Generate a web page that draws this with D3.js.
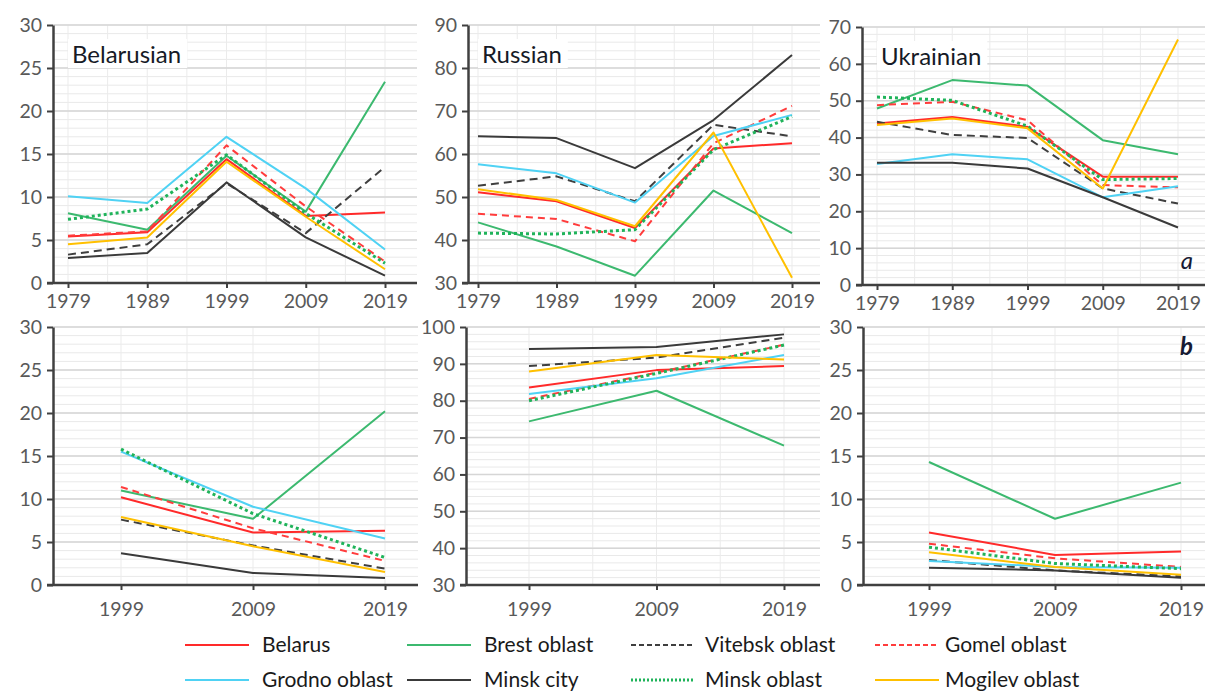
<!DOCTYPE html>
<html>
<head>
<meta charset="utf-8">
<script src="https://cdn.jsdelivr.net/npm/d3@7"></script>
<style>
  body { margin: 0; background: #fff; }
  svg { display: block; }
  text { font-family: Lato, "Open Sans", sans-serif; }
</style>
</head>
<body>
<div id="chart"></div>
<script>
// categories
const yearsA = ['1979', '1989', '1999', '2009', '2019'];
const yearsB = ['1999', '2009', '2019'];

// series, in drawing order
const seriesNames = ['Belarus', 'Brest oblast', 'Vitebsk oblast', 'Gomel oblast',
  'Grodno oblast', 'Minsk city', 'Minsk oblast', 'Mogilev oblast'];
const seriesColors = ['#ff2a2a', '#3cb96f', '#3f3f3f', '#ff3c3c',
  '#4fd2f4', '#3a3a3a', '#1fb35a', '#ffc000'];
const seriesDash = [null, null, '8,5', '7,5', null, null, '3,3', null];
const legendDash = [null, null, '5,3', '5,3', null, null, '2,2', null];

// values, one row per series (same order as seriesNames)
const belarusianA = [
  [5.4, 5.9, 14.4, 7.8, 8.2],
  [8.1, 6.2, 14.8, 8.3, 23.4],
  [3.3, 4.5, 11.6, 5.8, 13.5],
  [5.5, 6.0, 16.0, 8.9, 2.5],
  [10.1, 9.3, 17.0, 11.0, 3.9],
  [2.9, 3.5, 11.7, 5.3, 0.85],
  [7.4, 8.6, 14.9, 8.1, 2.3],
  [4.5, 5.3, 14.1, 7.7, 1.6]
];
const russianA = [
  [51.1, 49.0, 42.8, 61.3, 62.5],
  [44.1, 38.5, 31.7, 51.5, 41.6],
  [52.6, 54.8, 49.0, 66.8, 64.1],
  [46.1, 44.9, 39.7, 62.5, 71.2],
  [57.6, 55.5, 48.7, 64.2, 69.1],
  [64.1, 63.7, 56.7, 67.9, 83.0],
  [41.6, 41.4, 42.4, 61.0, 68.7],
  [51.8, 49.3, 43.2, 65.0, 31.2]
];
const ukrainianA = [
  [43.8, 45.6, 42.9, 29.4, 29.4],
  [47.9, 55.6, 54.1, 39.3, 35.5],
  [44.3, 40.7, 39.9, 26.2, 22.1],
  [48.8, 49.7, 44.7, 27.1, 26.5],
  [32.8, 35.5, 34.1, 23.8, 26.8],
  [33.2, 33.2, 31.6, 23.8, 15.6],
  [51.0, 50.1, 43.1, 28.6, 28.9],
  [43.4, 45.2, 42.5, 26.2, 66.6]
];
const belarusianB = [
  [10.2, 6.1, 6.3],
  [11.0, 7.7, 20.2],
  [7.6, 4.6, 1.9],
  [11.4, 6.6, 2.8],
  [15.5, 9.1, 5.4],
  [3.7, 1.4, 0.8],
  [15.8, 8.3, 3.2],
  [7.9, 4.5, 1.5]
];
const russianB = [
  [83.6, 88.3, 89.4],
  [74.4, 82.7, 67.8],
  [89.4, 91.7, 97.1],
  [80.5, 87.6, 95.2],
  [81.8, 86.1, 92.4],
  [94.0, 94.6, 98.0],
  [80.0, 87.4, 95.1],
  [87.9, 92.4, 91.2]
];
const ukrainianB = [
  [6.1, 3.5, 3.9],
  [14.3, 7.7, 11.9],
  [2.9, 1.7, 1.0],
  [4.8, 3.1, 2.1],
  [2.8, 2.1, 2.0],
  [2.0, 1.7, 0.85],
  [4.4, 2.5, 1.9],
  [3.8, 2.1, 1.2]
];

// panel layout (pixel boxes of the six Excel charts glued together)
const panels = [
  { values: belarusianA, cats: yearsA, y: [0, 30], step: 5, axisX: 53, first: 68, last: 385, right: 417, top: 25, bottom: 283, title: 'Belarusian', pad: 6 },
  { values: russianA, cats: yearsA, y: [30, 90], step: 10, axisX: 468, first: 478, last: 792, right: 820, top: 25, bottom: 283, title: 'Russian', pad: 6 },
  { values: ukrainianA, cats: yearsA, y: [0, 70], step: 10, axisX: 862, first: 877, last: 1178, right: 1205, top: 27, bottom: 285, title: 'Ukrainian', pad: 6, mark: 'a' },
  { values: belarusianB, cats: yearsB, y: [0, 30], step: 5, axisX: 53, first: 121, last: 385, right: 418, top: 327, bottom: 585, pad: 12 },
  { values: russianB, cats: yearsB, y: [30, 100], step: 10, axisX: 466, first: 529, last: 784, right: 820, top: 327, bottom: 585, pad: 12 },
  { values: ukrainianB, cats: yearsB, y: [0, 30], step: 5, axisX: 863, first: 929, last: 1181, right: 1205, top: 327, bottom: 585, pad: 12, mark: 'b' }
];

const W = 1205, H = 693;
const svg = d3.select('#chart').append('svg')
  .attr('width', W).attr('height', H);

panels.forEach(p => {
  const g = svg.append('g');
  const x = d3.scalePoint().domain(p.cats).range([p.first, p.last]);
  const y = d3.scaleLinear().domain(p.y).range([p.bottom, p.top]);

  // minor horizontal gridlines (5 per major step)
  const minor = d3.range(p.y[0], p.y[1] + 1e-6, p.step / 5);
  g.selectAll('.minor').data(minor).enter().append('line')
    .attr('x1', p.axisX).attr('x2', p.right)
    .attr('y1', d => y(d)).attr('y2', d => y(d))
    .attr('stroke', '#e9e9e9').attr('stroke-width', 1);

  // vertical gridlines at categories and halfway between them
  const half = (x(p.cats[1]) - x(p.cats[0])) / 2;
  const vx = [];
  p.cats.forEach((c, i) => {
    vx.push(x(c));
    if (i < p.cats.length - 1) vx.push(x(c) + half);
  });
  g.selectAll('.vgrid').data(vx).enter().append('line')
    .attr('x1', d => d).attr('x2', d => d)
    .attr('y1', p.top).attr('y2', p.bottom)
    .attr('stroke', '#ebebeb').attr('stroke-width', 1);

  const major = d3.range(p.y[0], p.y[1] + 1e-6, p.step);
  g.selectAll('.major').data(major).enter().append('line')
    .attr('x1', p.axisX).attr('x2', p.right)
    .attr('y1', d => y(d)).attr('y2', d => y(d))
    .attr('stroke', '#d6d6d6').attr('stroke-width', 1.5);

  // title with white box behind it
  if (p.title) {
    const t = g.append('text')
      .attr('x', p.first + 4).attr('y', p.top + 38)
      .attr('font-size', 24).attr('fill', '#161a26')
      .text(p.title);
    const b = t.node().getBBox();
    g.insert('rect', 'text')
      .attr('x', b.x - 4).attr('y', b.y).attr('width', b.width + 10).attr('height', b.height)
      .attr('fill', '#fff');
  }

  // series lines
  const line = d3.line().x((d, i) => x(p.cats[i])).y(d => y(d));
  g.selectAll('.series').data(p.values).enter().append('path')
    .attr('d', line)
    .attr('fill', 'none')
    .attr('stroke', (d, i) => seriesColors[i])
    .attr('stroke-width', (d, i) => seriesDash[i] === '3,3' ? 3 : 2)
    .attr('stroke-dasharray', (d, i) => seriesDash[i])
    .attr('stroke-linejoin', 'round');

  // y axis
  const yAxis = g.append('g')
    .attr('transform', `translate(${p.axisX},0)`)
    .call(d3.axisLeft(y).tickValues(major).tickSize(6).tickSizeOuter(0).tickPadding(5));
  // x axis, its line runs the whole plot width
  const xAxis = g.append('g')
    .attr('transform', `translate(0,${p.bottom})`)
    .call(d3.axisBottom(x).tickSize(5).tickSizeOuter(0).tickPadding(p.pad));
  xAxis.select('.domain').remove();
  xAxis.append('line')
    .attr('x1', p.axisX - 6).attr('x2', p.right)
    .attr('stroke', '#404040').attr('stroke-width', 2.5);

  [yAxis, xAxis].forEach(a => {
    a.selectAll('.domain').attr('stroke', '#404040').attr('stroke-width', 2.5);
    a.selectAll('.tick line').attr('stroke', '#404040').attr('stroke-width', 2);
    a.selectAll('.tick text')
      .attr('font-size', 19.5).attr('fill', '#595959')
      .attr('font-family', 'Lato, sans-serif');
  });

  if (p.mark) {
    g.append('text')
      .attr('x', p.right - 12).attr('y', p.mark === 'a' ? p.bottom - 16 : p.top + 28)
      .attr('text-anchor', 'end')
      .attr('font-size', 24).attr('font-style', 'italic')
      .attr('font-weight', p.mark === 'b' ? 'bold' : 'normal')
      .attr('fill', '#161a33')
      .text(p.mark);
  }
});

// legend, two rows of four
const legendCols = [185, 407, 631, 875];
const legendTextOff = [77, 77, 74, 70];
const legendRows = [645, 680];
const legend = svg.append('g');
seriesNames.forEach((name, i) => {
  const col = i % 4, row = Math.floor(i / 4);
  const lx = legendCols[col], ly = legendRows[row];
  legend.append('line')
    .attr('x1', lx).attr('x2', lx + 64)
    .attr('y1', ly).attr('y2', ly)
    .attr('stroke', seriesColors[i])
    .attr('stroke-width', legendDash[i] === '2,2' ? 3 : 2)
    .attr('stroke-dasharray', legendDash[i]);
  legend.append('text')
    .attr('x', lx + legendTextOff[col]).attr('y', ly + 7)
    .attr('font-size', 21).attr('fill', '#1a1a1a')
    .text(name);
});
</script>
</body>
</html>
